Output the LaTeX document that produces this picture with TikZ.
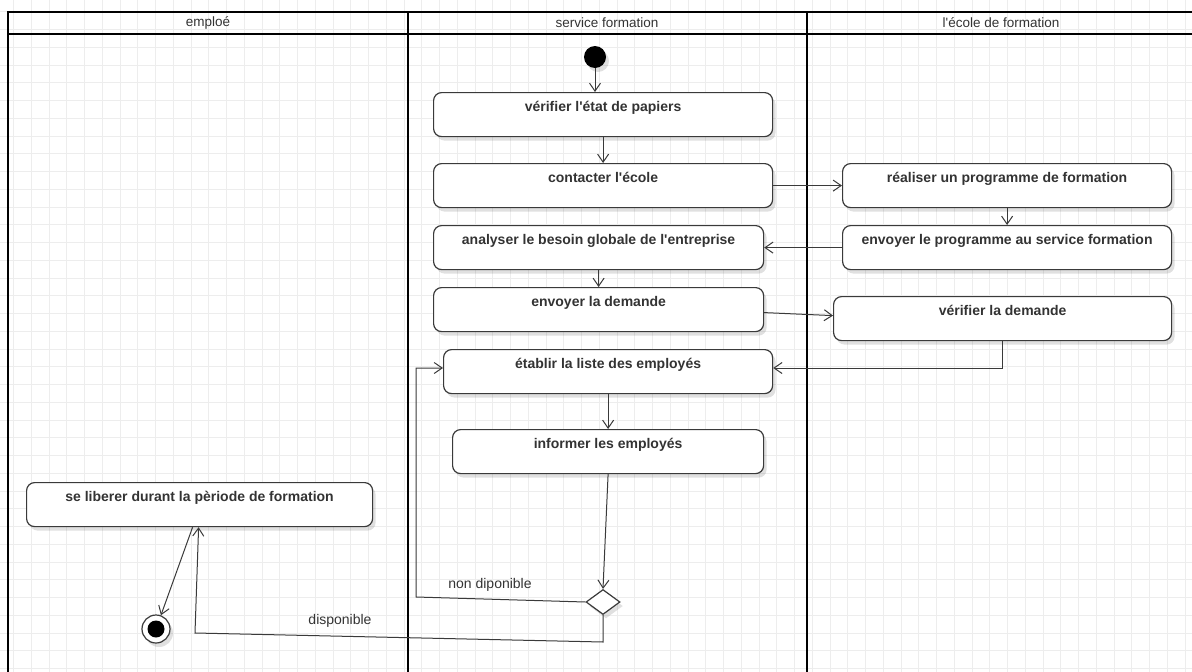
\documentclass[tikz,border=0pt]{standalone}
\usepackage{fontspec}
\setmainfont{Liberation Sans}
\usetikzlibrary{arrows.meta,shapes.geometric,shadows,calc}
\definecolor{gridc}{HTML}{EDEDED}
\definecolor{edge}{HTML}{3A3A3A}
\definecolor{txt}{HTML}{333333}
\newcommand{\ap}{\textquotesingle}
\begin{document}
\begin{tikzpicture}[x=1pt,y=-1pt,
  gridline/.style={draw=gridc, line width=1pt},
  lane/.style={draw=black, line width=2pt},
  shad/.style={drop shadow={shadow xshift=3pt, shadow yshift=-4pt, opacity=0.12, fill=black}},
  act/.style={draw=edge, line width=1.2pt, rounded corners=8pt, fill=white, shad,
    anchor=north west, inner xsep=0pt, inner ysep=5pt, text height=14pt, text depth=20pt,
    font=\fontsize{14}{16}\selectfont\bfseries, text=txt},
  hdr/.style={font=\fontsize{13.5}{16}\selectfont, text=txt, inner sep=0pt},
  lbl/.style={font=\fontsize{14}{16}\selectfont, text=txt, inner sep=0pt},
  flow/.style={draw=edge, line width=1pt, -{Straight Barb[length=8pt,width=11pt]}},
  plain/.style={draw=edge, line width=1pt}]
\useasboundingbox (0,0) rectangle (1192,672);
\fill[white] (0,0) rectangle (1192,672);
% grid
\foreach \i in {0,...,66} {\draw[gridline] ({13.55+\i*17.75},0) -- ++(0,672);}
\foreach \j in {0,...,37} {\draw[gridline] (0,{11.8+\j*17.75}) -- ++(1192,0);}
% swimlanes
\draw[lane] (8,680) -- (8,12) -- (1200,12);
\draw[lane] (8,34) -- (1200,34);
\draw[lane] (408,12) -- (408,680);
\draw[lane] (807,12) -- (807,680);
\node[hdr] (h1) at (208,23) {emploé};
\node[hdr] (h2) at (607,23) {service formation};
\node[hdr] (h3) at (1001,23) {l\ap école de formation};
% nodes
\node[circle, fill=black, minimum size=22pt, inner sep=0pt, shad] (init) at (595,57) {};
\node[act, minimum width=339pt] (verif) at (433,92) {vérifier l\ap état de papiers};
\node[act, minimum width=339pt] (contact) at (433,163) {contacter l\ap école};
\node[act, minimum width=330pt] (analyser) at (433,225) {analyser le besoin globale de l\ap entreprise};
\node[act, minimum width=330pt] (demande) at (433,287) {envoyer la demande};
\node[act, minimum width=329pt] (realise) at (842,163) {réaliser un programme de formation};
\node[act, minimum width=329pt] (envprog) at (842,225) {envoyer le programme au service formation};
\node[act, minimum width=338pt] (verifdem) at (833,296) {vérifier la demande};
\node[act, minimum width=329pt] (etablir) at (443,349) {établir la liste des employés};
\node[act, minimum width=311pt] (informer) at (452,429) {informer les employés};
\node[act, minimum width=346pt] (liberer) at (26,482) {se liberer durant la pèriode de formation};
\node[diamond, draw=edge, line width=1.2pt, fill=white, minimum width=34pt, minimum height=25pt, inner sep=0pt, shad] (dec) at (603,602) {};
\node[circle, draw=edge, line width=1.2pt, fill=white, minimum size=28pt, inner sep=0pt, shad] (final) at (156,629) {};
\fill[black] (final.center) circle (8.5pt);
% connectors
\draw[flow] (init.south) -- (init.south |- verif.north);
\draw[flow] (verif) -- (contact);
\draw[flow] (contact) -- (realise);
\draw[flow] (realise) -- (envprog);
\draw[flow] (envprog) -- (analyser);
\draw[flow] (analyser) -- (demande);
\draw[flow] ($(demande.east)+(0,3)$) -- ($(verifdem.west)+(0,-3)$);
\coordinate (c1) at (1002,368);
\draw[flow] (verifdem.south -| c1) -- (c1) -- (c1 -| etablir.east);
\draw[flow] (etablir) -- (informer);
\draw[flow] (informer.south) -- (dec.north);
\coordinate (c2) at (416,597);
\coordinate (c3) at (416,368);
\draw[flow] (dec.west) -- (c2) -- (c3) -- (c3 -| etablir.west);
\coordinate (c4) at (603,642);
\coordinate (c5) at (195,633);
\draw[flow] (dec.south) -- (c4) -- (c5) -- ($(liberer.south)+(-1,0)$);
\draw[flow] ($(liberer.south)+(-7,0)$) -- (final);
\node[lbl] (l1) at (490,585) {non diponible};
\node[lbl] (l2) at (340,621) {disponible};
\end{tikzpicture}
\end{document}
